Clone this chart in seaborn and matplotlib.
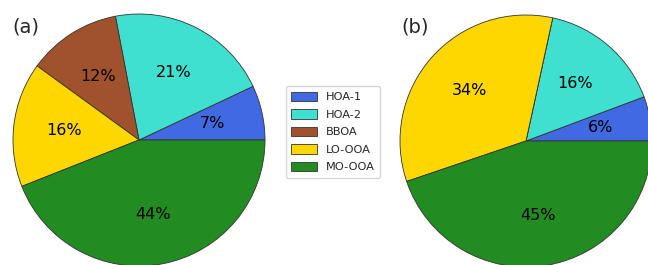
import numpy as np
import matplotlib
matplotlib.use('Agg')
import matplotlib.pyplot as plt
import seaborn as sns

sns.set_style('white')
plt.rcParams['font.family'] = ['DejaVu Sans']

# 因子名称与两组占比数据
factors = ['HOA-1', 'HOA-2', 'BBOA', 'LO-OOA', 'MO-OOA']
share_a = [7.0, 21.0, 12.0, 16.0, 44.0]
share_b = [5.7, 15.9, 0.0, 33.6, 44.8]
panel_tags = ['(a)', '(b)']

colors = sns.color_palette(['royalblue', 'turquoise', 'sienna', 'gold', 'forestgreen'])

W, H = 648, 265
fig = plt.figure(figsize=(W / 100, H / 100), dpi=100)


def pct_fmt(p):
    # 0% 的扇区不显示标签
    return '' if p < 0.5 else '%.0f%%' % p


def draw_pie(cx, cy, r, vals, tag, tx, ty):
    ax = fig.add_axes([(cx - r) / W, (H - cy - r) / H, 2 * r / W, 2 * r / H])
    wedges, _, _ = ax.pie(vals, colors=colors, startangle=0, counterclock=True,
                          autopct=pct_fmt, pctdistance=0.6,
                          wedgeprops=dict(edgecolor='#333333', linewidth=0.6),
                          textprops=dict(fontsize=11.5, color='black'))
    ax.set_xlim(-1, 1)
    ax.set_ylim(-1, 1)
    ax.set_aspect('equal')
    ax.axis('off')
    fig.text(tx / W, 1 - ty / H, tag, fontsize=14, ha='left', va='center')
    return wedges


wedges_a = draw_pie(139, 140, 126, share_a, panel_tags[0], 12, 27)
draw_pie(526, 141, 126, share_b, panel_tags[1], 401, 27)

fig.legend(wedges_a, factors, loc='center', bbox_to_anchor=(333 / W, 1 - 132 / H),
           fontsize=8.2, handlelength=2.2, handleheight=0.9, labelspacing=0.6,
           frameon=True, edgecolor='#cccccc', borderpad=0.5)

fig.savefig('out.png', dpi=100)
